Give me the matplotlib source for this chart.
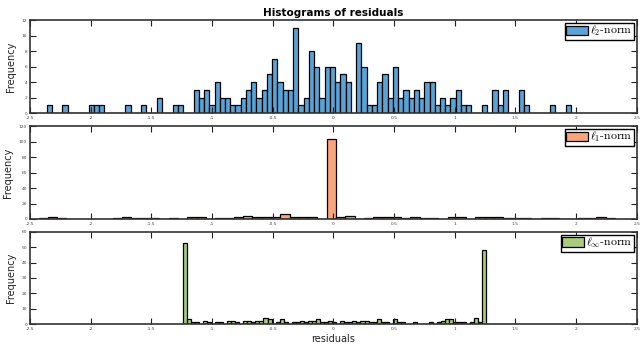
import numpy as np
import matplotlib
matplotlib.use("Agg")
import matplotlib.pyplot as plt
from matplotlib.patches import Patch

plt.rcParams['mathtext.fontset'] = 'cm'
plt.rcParams['font.family'] = ['DejaVu Sans']

# ---- data (bin counts) ----
l2_range = (-2.3625, 1.959)
l2_counts = [1, 0, 0, 1, 0, 0, 0, 0, 1, 1, 1, 0, 0, 0, 0, 1, 0, 0, 1, 0,
             0, 2, 0, 0, 1, 1, 0, 0, 3, 2, 3, 1, 4, 2, 2, 1, 1, 2, 3, 4,
             2, 3, 5, 7, 4, 3, 3, 11, 1, 2, 8, 6, 2, 6, 6, 4, 5, 4, 0, 9,
             6, 1, 1, 4, 5, 2, 6, 2, 3, 2, 3, 2, 4, 4, 1, 2, 1, 2, 3, 1,
             1, 0, 0, 1, 0, 3, 1, 3, 0, 0, 3, 1, 0, 0, 0, 0, 1, 0, 0, 1]

l1_range = (-2.43, 2.32)
l1_counts = [1, 2, 1, 0, 0, 0, 0, 0, 1, 2, 1, 1, 1, 0, 1, 0, 2, 3, 0, 1,
             1, 2, 4, 2, 2, 3, 7, 3, 3, 2, 0, 103, 2, 4, 0, 1, 2, 3, 3, 1,
             2, 1, 1, 0, 3, 2, 0, 2, 2, 2, 1, 1, 1, 0, 1, 1, 0, 0, 1, 1,
             2, 1]

linf_range = (-1.242, 1.256)
linf_counts = [53, 3, 1, 1, 0, 2, 1, 0, 1, 1, 0, 2, 2, 1, 0, 2, 2, 1, 2, 2,
               4, 3, 0, 1, 3, 1, 0, 1, 1, 2, 1, 2, 2, 3, 1, 1, 2, 1, 0, 2,
               1, 1, 2, 1, 2, 2, 1, 1, 3, 1, 1, 0, 3, 1, 1, 0, 0, 1, 0, 0,
               0, 1, 0, 1, 2, 3, 3, 1, 1, 1, 0, 1, 4, 1, 48]

labels = [r'$\ell_2$-norm', r'$\ell_1$-norm', r'$\ell_\infty$-norm']
colors = ['#5AA3D6', '#FCA47C', '#A8CC7C']
ylims = [(0, 12), (0, 120), (0, 60)]
ysteps = [2, 20, 10]
xticks = [-2.5, -2, -1.5, -1, -0.5, 0, 0.5, 1, 1.5, 2, 2.5]
xticklabels = ['-2.5', '-2', '-1.5', '-1', '-0.5', '0', '0.5', '1', '1.5', '2', '2.5']

fig = plt.figure(figsize=(6.4, 3.44), dpi=100)
boxes = [[0.0469, 0.6715, 0.948, 0.270],
         [0.0469, 0.3634, 0.948, 0.270],
         [0.0469, 0.0581, 0.948, 0.268]]

datasets = [(l2_range, l2_counts), (l1_range, l1_counts), (linf_range, linf_counts)]

for i, ((lo, hi), counts) in enumerate(datasets):
    ax = fig.add_axes(boxes[i])
    counts = np.array(counts)
    edges = np.linspace(lo, hi, len(counts) + 1)
    ax.bar(edges[:-1], counts, width=np.diff(edges), align='edge',
           color=colors[i], edgecolor='black', linewidth=0.9)
    ax.set_xlim(-2.5, 2.5)
    ax.set_ylim(*ylims[i])
    ax.set_xticks(xticks)
    ax.set_xticklabels(xticklabels)
    ax.set_yticks(np.arange(ylims[i][0], ylims[i][1] + 1, ysteps[i]))
    ax.tick_params(direction='in', top=True, right=True, length=4, width=0.8,
                   labelsize=3.2, labelcolor='#444444', pad=2, color='#222222')
    for s in ax.spines.values():
        s.set_linewidth(1.2)
        s.set_color('#333333')
    ax.set_ylabel('Frequency', fontsize=7, color='#222222', labelpad=4)
    leg = ax.legend(handles=[Patch(facecolor=colors[i], edgecolor='black', linewidth=0.9)],
                    labels=[labels[i]], loc='upper right',
                    prop={'family': 'cmr10', 'size': 8.5},
                    fancybox=False, framealpha=1, edgecolor='black',
                    borderpad=0.12, handlelength=1.8, handleheight=0.9,
                    handletextpad=0.2, borderaxespad=0.25)
    leg.get_frame().set_linewidth(1.0)
    if i == 0:
        ax.set_title('Histograms of residuals', fontsize=7.5, fontweight='bold', pad=3)
    if i == 2:
        ax.set_xlabel('residuals', fontsize=7, color='#222222', labelpad=2)

fig.savefig('out.png', dpi=100, facecolor='white')
